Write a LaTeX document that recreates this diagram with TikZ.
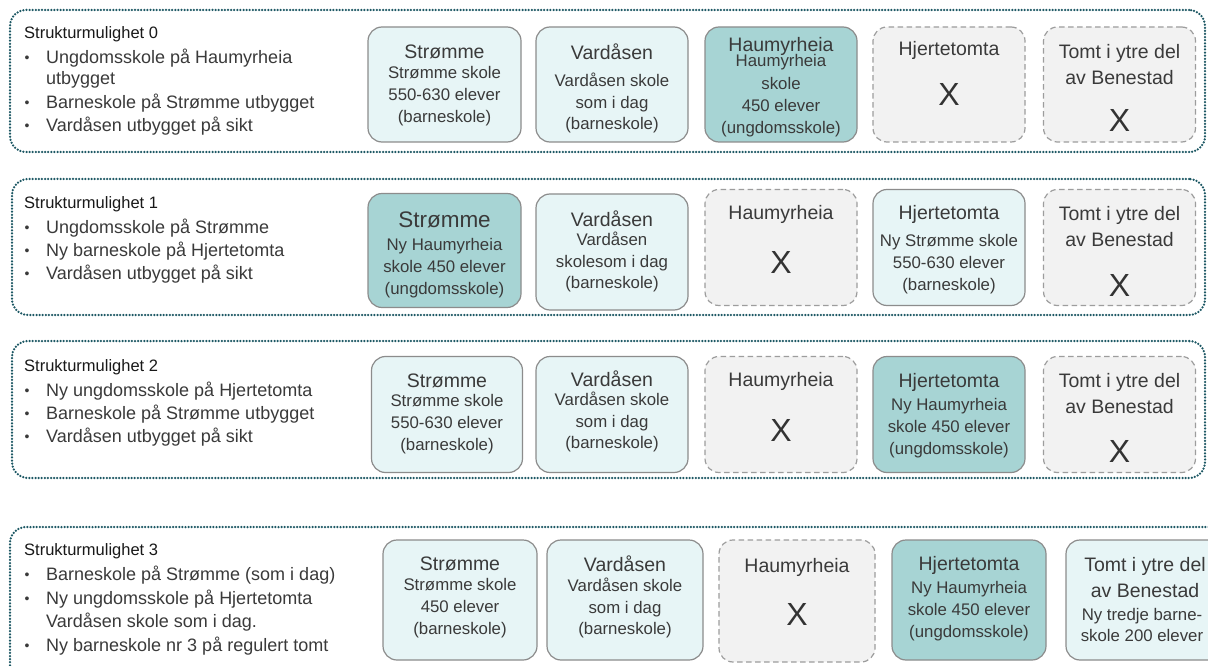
\documentclass[tikz,border=0pt]{standalone}
\usepackage{fontspec}
\setmainfont{Liberation Sans}
\definecolor{frm}{HTML}{1D5864}
\definecolor{lfill}{HTML}{E7F5F6}
\definecolor{dfill}{HTML}{A7D4D4}
\definecolor{gfill}{HTML}{F2F2F2}
\definecolor{bord}{HTML}{8C8C8C}
\definecolor{txt}{HTML}{3A3A3A}
\tikzset{
  frame/.style={draw=frm, line width=2.5pt, dash pattern=on 0pt off 3.1pt, line cap=round, rounded corners=16pt, inner sep=0},
  boxx/.style={rounded corners=14pt, line width=1.2pt, minimum height=116pt, minimum width=152pt, inner sep=0},
  lbox/.style={boxx, draw=bord, fill=lfill},
  dbox/.style={boxx, draw=bord, fill=dfill},
  xbox/.style={boxx, draw=bord!85, fill=gfill, dash pattern=on 5.5pt off 3.5pt},
  head/.style={font=\fontsize{19.5}{26}\selectfont, text=txt, inner sep=0, align=center},
  bighead/.style={font=\fontsize{22.5}{26}\selectfont, text=txt, inner sep=0, align=center},
  sub/.style={font=\fontsize{16.8}{21.7}\selectfont, text=txt, inner sep=0, align=center},
  cross/.style={font=\fontsize{32}{32}\selectfont, text=black!80, inner sep=0},
  ttl/.style={font=\fontsize{16.5}{20}\selectfont, text=black!90, anchor=west, inner sep=0},
  bl/.style={font=\fontsize{18}{20}\selectfont, text=txt, anchor=west, inner sep=0},
  dot/.style={font=\fontsize{14}{20}\selectfont, text=txt, inner sep=0},
}
\begin{document}
\begin{tikzpicture}[x=1pt,y=-1pt]
\useasboundingbox (0,0) rectangle (1208,666);
\clip (0,0) rectangle (1208,666);
\fill[white] (0,0) rectangle (1208,666);

% ---------- Row 0 ----------
\node[frame, minimum width=1195pt, minimum height=142pt] (f0) at (607.5,81) {};
\node[ttl] (t0) at (24,34) {Strukturmulighet 0};
\node[dot] (d01) at (27,59) {•}; \node[bl] (b01) at (46,58) {Ungdomsskole på Haumyrheia};
\node[bl] (b01b) at (46,80) {utbygget};
\node[dot] (d02) at (27,104) {•}; \node[bl] (b02) at (46,103) {Barneskole på Strømme utbygget};
\node[dot] (d03) at (27,127) {•}; \node[bl] (b03) at (46,126) {Vardåsen utbygget på sikt};

\node[lbox, minimum width=153pt, minimum height=115pt] (s0) at (444.5,84.5) {};
\node[lbox, minimum height=115pt] (v0) at (612,84.5) {};
\node[dbox, minimum height=115pt] (h0) at (781,84.5) {};
\node[xbox, minimum height=115pt] (j0) at (949,84.5) {};
\node[xbox, minimum height=115pt] (o0) at (1119.5,84.5) {};
\node[head] (s0h) at (444.5,52) {Strømme};
\node[sub] (s0s) at (444.5,96) {Strømme skole\\550-630 elever\\(barneskole)};
\node[head] (v0h) at (612,52) {Vardåsen};
\node[sub] (v0s) at (612,103) {Vardåsen skole\\som i dag\\(barneskole)};
\node[head] (h0h) at (781,46) {Haumyrheia};
\node[sub] (h0a) at (781,62) {Haumyrheia};
\node[sub] (h0s) at (781,107) {skole\\450 elever\\(ungdomsskole)};
\node[head] (j0h) at (949,50) {Hjertetomta};
\node[cross] (j0x) at (949,94) {X};
\node[head] (o0h) at (1119.5,65) {Tomt i ytre del\\av Benestad};
\node[cross] (o0x) at (1119.5,120) {X};

% ---------- Row 1 ----------
\node[frame, minimum width=1193pt, minimum height=136pt] (f1) at (608.5,247) {};
\node[ttl] (t1) at (24,204) {Strukturmulighet 1};
\node[dot] (d11) at (27,229) {•}; \node[bl] (b11) at (46,228) {Ungdomsskole på Strømme};
\node[dot] (d12) at (27,252) {•}; \node[bl] (b12) at (46,251) {Ny barneskole på Hjertetomta};
\node[dot] (d13) at (27,275) {•}; \node[bl] (b13) at (46,274) {Vardåsen utbygget på sikt};

\node[dbox, minimum width=153pt, minimum height=114pt] (s1) at (444.5,250.5) {};
\node[lbox] (v1) at (612,252) {};
\node[xbox] (h1) at (781,247.5) {};
\node[lbox] (j1) at (949,247.5) {};
\node[xbox] (o1) at (1119.5,247.5) {};
\node[bighead] (s1h) at (444.5,220) {Strømme};
\node[sub] (s1s) at (444.5,268) {Ny Haumyrheia\\skole 450 elever\\(ungdomsskole)};
\node[head] (v1h) at (612,219) {Vardåsen};
\node[sub] (v1s) at (612,262) {Vardåsen\\skolesom i dag\\(barneskole)};
\node[head] (h1h) at (781,214) {Haumyrheia};
\node[cross] (h1x) at (781,262) {X};
\node[head] (j1h) at (949,214) {Hjertetomta};
\node[sub] (j1s) at (949,264) {Ny Strømme skole\\550-630 elever\\(barneskole)};
\node[head] (o1h) at (1119.5,227) {Tomt i ytre del\\av Benestad};
\node[cross] (o1x) at (1119.5,285) {X};

% ---------- Row 2 ----------
\node[frame, minimum width=1193pt, minimum height=137pt] (f2) at (608.5,409.5) {};
\node[ttl] (t2) at (24,367) {Strukturmulighet 2};
\node[dot] (d21) at (27,392) {•}; \node[bl] (b21) at (46,391) {Ny ungdomsskole på Hjertetomta};
\node[dot] (d22) at (27,415) {•}; \node[bl] (b22) at (46,414) {Barneskole på Strømme utbygget};
\node[dot] (d23) at (27,438) {•}; \node[bl] (b23) at (46,437) {Vardåsen utbygget på sikt};

\node[lbox, minimum width=151pt] (s2) at (447,414.5) {};
\node[lbox] (v2) at (612,414.5) {};
\node[xbox] (h2) at (781,414.5) {};
\node[dbox] (j2) at (949,414.5) {};
\node[xbox] (o2) at (1119.5,414.5) {};
\node[head] (s2h) at (447,381) {Strømme};
\node[sub] (s2s) at (447,424) {Strømme skole\\550-630 elever\\(barneskole)};
\node[head] (v2h) at (612,379) {Vardåsen};
\node[sub] (v2s) at (612,422) {Vardåsen skole\\som i dag\\(barneskole)};
\node[head] (h2h) at (781,381) {Haumyrheia};
\node[cross] (h2x) at (781,430) {X};
\node[head] (j2h) at (949,382) {Hjertetomta};
\node[sub] (j2s) at (949,428) {Ny Haumyrheia\\skole 450 elever\\(ungdomsskole)};
\node[head] (o2h) at (1119.5,394) {Tomt i ytre del\\av Benestad};
\node[cross] (o2x) at (1119.5,451) {X};

% ---------- Row 3 ----------
\node[frame, minimum width=1230pt, minimum height=180pt] (f3) at (625,617) {};
\node[ttl] (t3) at (24,551) {Strukturmulighet 3};
\node[dot] (d31) at (27,576) {•}; \node[bl] (b31) at (46,575) {Barneskole på Strømme (som i dag)};
\node[dot] (d32) at (27,600) {•}; \node[bl] (b32) at (46,599) {Ny ungdomsskole på Hjertetomta};
\node[bl] (b32b) at (46,622) {Vardåsen skole som i dag.};
\node[dot] (d33) at (27,647) {•}; \node[bl] (b33) at (46,646) {Ny barneskole nr 3 på regulert tomt};

\node[lbox, minimum width=154pt, minimum height=120pt] (s3) at (460,600) {};
\node[lbox, minimum width=156pt, minimum height=120pt] (v3) at (625,600) {};
\node[xbox, minimum width=156pt, minimum height=122pt] (h3) at (797,601) {};
\node[dbox, minimum width=154pt, minimum height=120pt] (j3) at (969,600) {};
\node[lbox, minimum width=164pt, minimum height=120pt] (o3) at (1148,600) {};
\node[head] (s3h) at (460,564) {Strømme};
\node[sub] (s3s) at (460,608) {Strømme skole\\450 elever\\(barneskole)};
\node[head] (v3h) at (625,564) {Vardåsen};
\node[sub] (v3s) at (625,608) {Vardåsen skole\\som i dag\\(barneskole)};
\node[head] (h3h) at (797,567) {Haumyrheia};
\node[cross] (h3x) at (797,614) {X};
\node[head] (j3h) at (969,565) {Hjertetomta};
\node[sub] (j3s) at (969,611) {Ny Haumyrheia\\skole 450 elever\\(ungdomsskole)};
\node[head] (o3h) at (1145,578) {Tomt i ytre del\\av Benestad};
\node[sub] (o3s) at (1142,625) {Ny tredje barne-\\skole 200 elever};
\end{tikzpicture}
\end{document}
